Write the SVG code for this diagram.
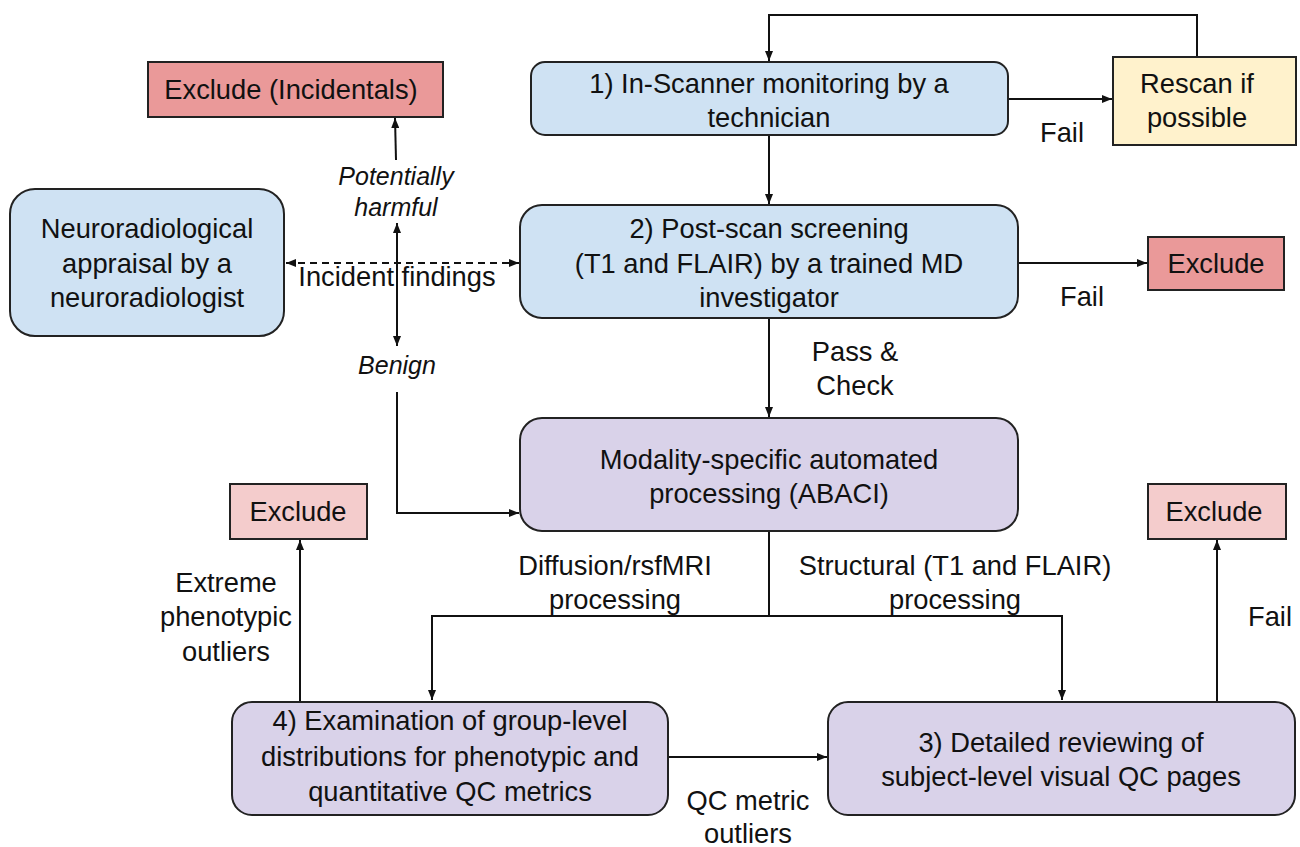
<svg xmlns="http://www.w3.org/2000/svg" width="1300" height="847" viewBox="0 0 1300 847">
<defs>
<marker id="ah" markerWidth="10" markerHeight="8" refX="10" refY="4" orient="auto" markerUnits="userSpaceOnUse">
<path d="M0,0 L10,4 L0,8 Z" fill="#111"/>
</marker>
<marker id="ahs" markerWidth="10" markerHeight="8" refX="0" refY="4" orient="auto" markerUnits="userSpaceOnUse">
<path d="M10,0 L0,4 L10,8 Z" fill="#111"/>
</marker>
<style>
text{font-family:"Liberation Sans",Arial,sans-serif;font-size:27.3px;fill:#111;text-anchor:middle}
.it{font-style:italic;font-size:25px}
.box{stroke:#222;stroke-width:2}
.blue{fill:#cfe2f3}
.purple{fill:#d9d2e9}
.red{fill:#ea9999}
.pink{fill:#f4cccc}
.yellow{fill:#fff2cc}
.ln{fill:none;stroke:#111;stroke-width:2}
</style>
</defs>
<rect width="1300" height="847" fill="#fff"/>

<g id="connectors">
<path class="ln" d="M1197,57 V15 H769 V61" marker-end="url(#ah)"/>
<path class="ln" d="M1008,99 H1112" marker-end="url(#ah)"/>
<path class="ln" d="M769,135 V204" marker-end="url(#ah)"/>
<path class="ln" d="M1018,263 H1147" marker-end="url(#ah)"/>
<path class="ln" d="M286,263 H519" stroke-dasharray="7,5" marker-start="url(#ahs)" marker-end="url(#ah)"/>
<path class="ln" d="M397,223 V346" marker-start="url(#ahs)" marker-end="url(#ah)"/>
<path class="ln" d="M396,160 L395,118" marker-end="url(#ah)"/>
<path class="ln" d="M397,392 V513 H519" marker-end="url(#ah)"/>
<path class="ln" d="M769,318 V417" marker-end="url(#ah)"/>
<path class="ln" d="M769,531 V616"/>
<path class="ln" d="M769,616 H432 V700" marker-end="url(#ah)"/>
<path class="ln" d="M769,616 H1062 V700" marker-end="url(#ah)"/>
<path class="ln" d="M668,757 H827" marker-end="url(#ah)"/>
<path class="ln" d="M300,702 V540" marker-end="url(#ah)"/>
<path class="ln" d="M1217,702 V540" marker-end="url(#ah)"/>
</g>

<g id="labels">
<text x="1062" y="142">Fail</text>
<text x="1082" y="306">Fail</text>
<text x="1270" y="626">Fail</text>
<text x="855" y="361">Pass &amp;</text>
<text x="855" y="395">Check</text>
<text x="397" y="286">Incident findings</text>
<text class="it" x="396" y="185">Potentially</text>
<text class="it" x="396" y="216">harmful</text>
<text class="it" x="397" y="374">Benign</text>
<text x="615" y="575">Diffusion/rsfMRI</text>
<text x="615" y="609">processing</text>
<text x="955" y="575">Structural (T1 and FLAIR)</text>
<text x="955" y="609">processing</text>
<text x="226" y="592">Extreme</text>
<text x="226" y="626">phenotypic</text>
<text x="226" y="661">outliers</text>
<text x="748" y="810">QC metric</text>
<text x="748" y="843">outliers</text>
</g>

<g id="exclude-incidentals">
<rect class="box red" x="148" y="62" width="295" height="55"/>
<text x="291" y="99">Exclude (Incidentals)</text>
</g>

<g id="step1">
<rect class="box blue" x="531" y="62" width="477" height="73" rx="14"/>
<text x="769" y="93">1) In-Scanner monitoring by a</text>
<text x="769" y="127">technician</text>
</g>

<g id="rescan">
<rect class="box yellow" x="1113" y="57" width="183" height="88"/>
<text x="1197" y="93">Rescan if</text>
<text x="1197" y="127">possible</text>
</g>

<g id="neuro">
<rect class="box blue" x="10" y="189" width="274" height="147" rx="25"/>
<text x="147" y="238">Neuroradiological</text>
<text x="147" y="273">appraisal by a</text>
<text x="147" y="307">neuroradiologist</text>
</g>

<g id="step2">
<rect class="box blue" x="520" y="205" width="498" height="113" rx="22"/>
<text x="769" y="238">2) Post-scan screening</text>
<text x="769" y="273">(T1 and FLAIR) by a trained MD</text>
<text x="769" y="307">investigator</text>
</g>

<g id="exclude-fail2">
<rect class="box red" x="1148" y="237" width="136" height="53"/>
<text x="1216" y="273">Exclude</text>
</g>

<g id="processing">
<rect class="box purple" x="520" y="418" width="498" height="113" rx="22"/>
<text x="769" y="469">Modality-specific automated</text>
<text x="769" y="503">processing (ABACI)</text>
</g>

<g id="exclude-outliers">
<rect class="box pink" x="230" y="484" width="137" height="55"/>
<text x="298" y="521">Exclude</text>
</g>

<g id="exclude-fail3">
<rect class="box pink" x="1148" y="484" width="138" height="55"/>
<text x="1214" y="521">Exclude</text>
</g>

<g id="step4">
<rect class="box purple" x="232" y="702" width="436" height="113" rx="20"/>
<text x="450" y="730">4) Examination of group-level</text>
<text x="450" y="766">distributions for phenotypic and</text>
<text x="450" y="801">quantitative QC metrics</text>
</g>

<g id="step3">
<rect class="box purple" x="828" y="702" width="467" height="113" rx="20"/>
<text x="1061" y="752">3) Detailed reviewing of</text>
<text x="1061" y="786">subject-level visual QC pages</text>
</g>
</svg>
